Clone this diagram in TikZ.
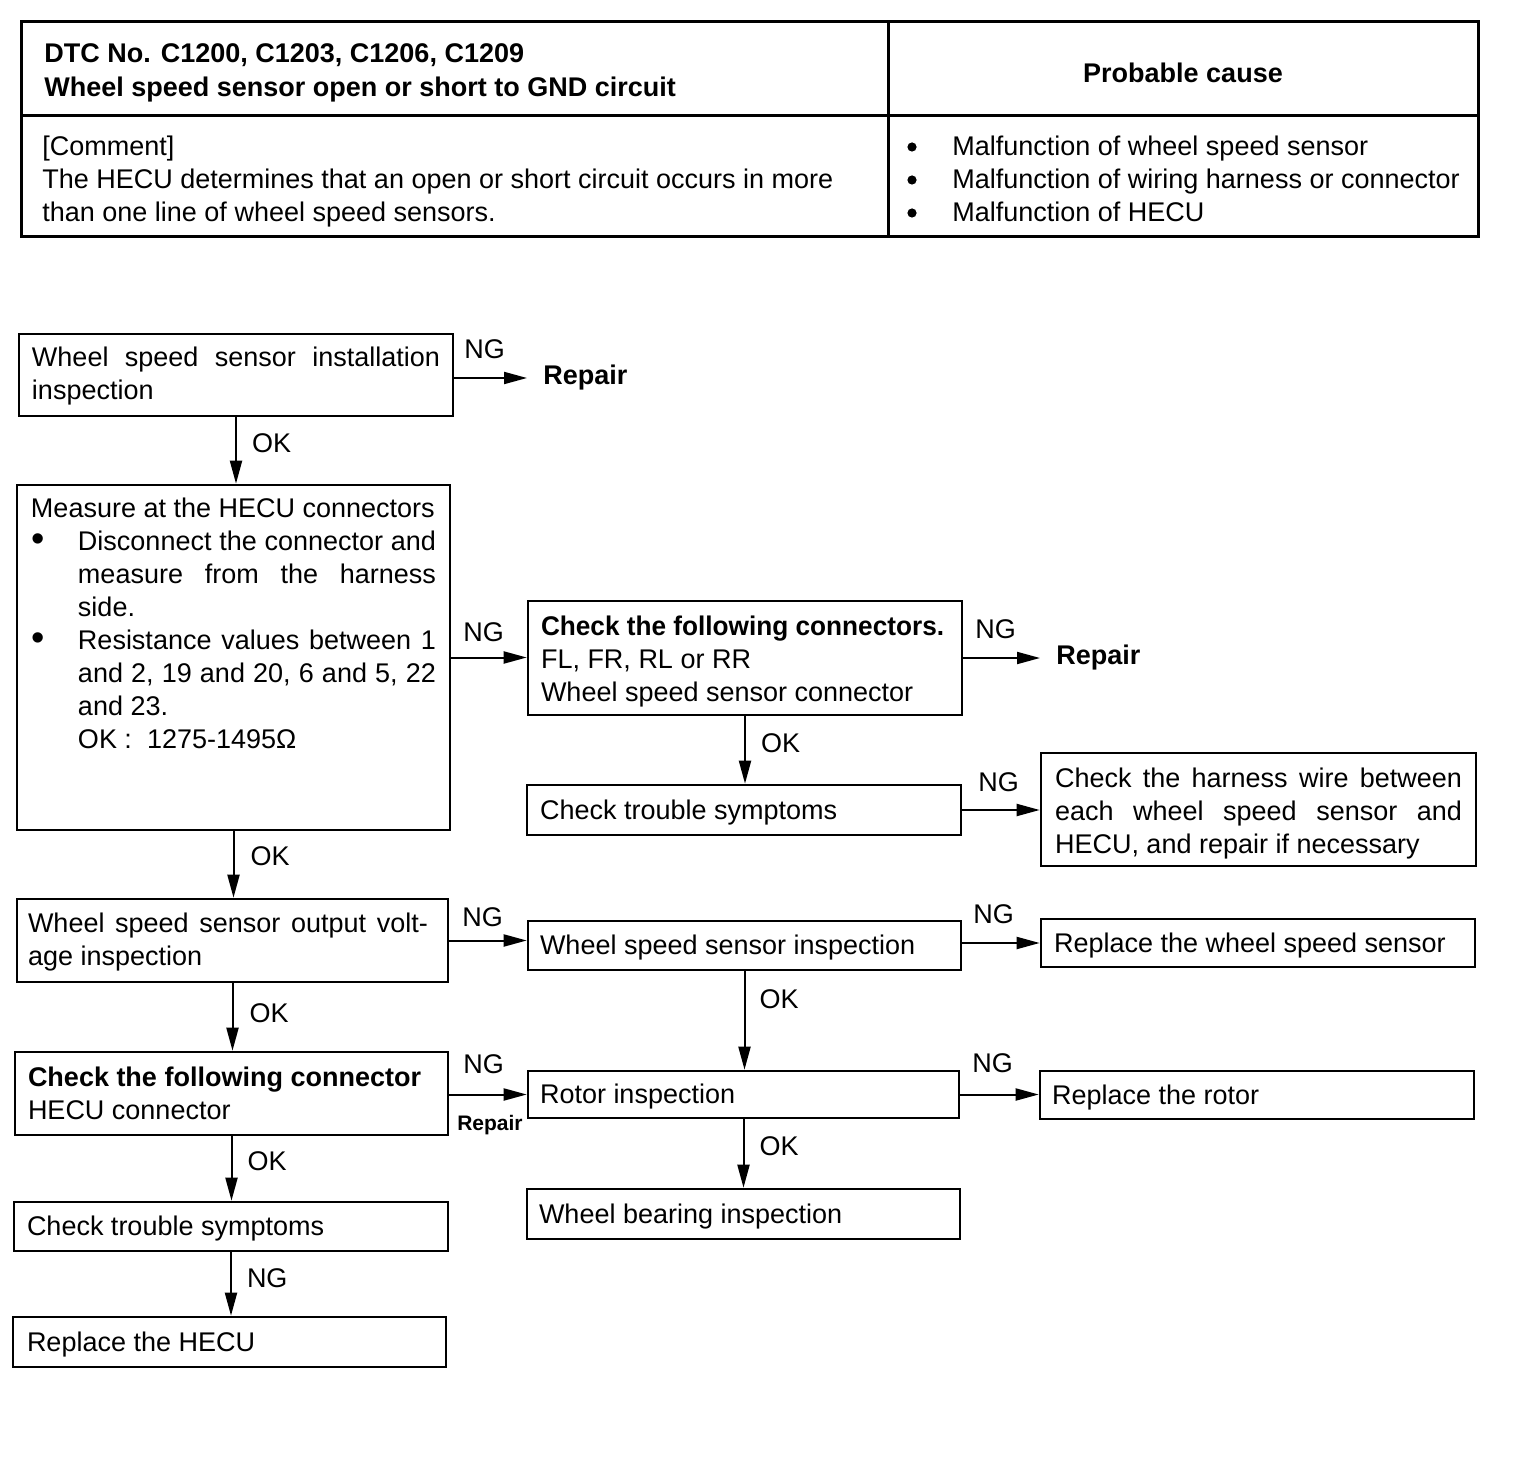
\documentclass[tikz,border=0pt]{standalone}
\usepackage{fontspec}
\setmainfont{Liberation Sans}
\usetikzlibrary{arrows.meta}
\newcommand\fsz{\fontsize{13.5pt}{16.5pt}\selectfont}
\newcommand\jline[1]{\makebox[\linewidth][s]{#1}}
\newcommand\bigbul{{\fontsize{19pt}{16.5pt}\selectfont\raisebox{-0.6pt}{•}}}
\newcommand\bul{\makebox[23.5pt][l]{\hspace{0.5pt}\bigbul}}
\newcommand\ind{\hspace*{23.5pt}}
\newcommand\jind[1]{\makebox[\dimexpr\linewidth-23.5pt\relax][s]{#1}}
\begin{document}
\begin{tikzpicture}[x=0.5pt,y=-0.5pt,
  bx/.style={draw, line width=1.3pt, inner sep=0pt, font=\fsz},
  one/.style={text height=12pt, text depth=2.3pt},
  arr/.style={line width=1pt, -{Triangle[length=11.5pt,width=6pt]}},
  lbl/.style={font=\fsz, inner sep=0pt},
  blbl/.style={font=\fsz\bfseries, inner sep=0pt},
  dot/.style={circle, fill, inner sep=0pt, minimum size=4.6pt},
  tbl/.style={line width=1.5pt}]
\useasboundingbox[fill=white] (0,0) rectangle (1520,1470);

% ---------- table ----------
\draw[tbl] (21,22) rectangle (1478,237);
\draw[tbl] (21,116) -- (1478,116);
\draw[tbl] (888,22) -- (888,237);
\node[blbl, anchor=base west] (th1) at (44,63) {DTC No. C1200, C1203, C1206, C1209};
\node[blbl, anchor=base west] (th2) at (44,97) {Wheel speed sensor open or short to GND circuit};
\node[blbl, anchor=base] (th3) at (1183,83) {Probable cause};
\node[lbl, anchor=base west] (c1) at (42,156) {[Comment]};
\node[lbl, anchor=base west] (c2) at (42,189) {The HECU determines that an open or short circuit occurs in more};
\node[lbl, anchor=base west] (c3) at (42,222) {than one line of wheel speed sensors.};
\node[dot] (pb1) at (912,147) {};
\node[dot] (pb2) at (912,180) {};
\node[dot] (pb3) at (912,213) {};
\node[lbl, anchor=base west] (p1) at (952,156) {Malfunction of wheel speed sensor};
\node[lbl, anchor=base west] (p2) at (952,189) {Malfunction of wiring harness or connector};
\node[lbl, anchor=base west] (p3) at (952,222) {Malfunction of HECU};

% ---------- boxes ----------
\node[bx, minimum width=217pt, minimum height=41pt] (b1) at (236,375)
  {\parbox[c][41pt][c]{204pt}{\vspace*{1pt}\jline{Wheel speed sensor installation}\\inspection}};
\node[bx, minimum width=216.5pt, minimum height=172.5pt] (b2) at (233.5,657.5)
  {\parbox[c][172.5pt][t]{202.5pt}{\vspace*{6.5pt}Measure at the HECU connectors\\
   \bul\jind{Disconnect the connector and}\\
   \ind\jind{measure from the harness}\\
   \ind side.\\
   \bul\jind{Resistance values between 1}\\
   \ind\jind{and 2, 19 and 20, 6 and 5, 22}\\
   \ind and 23.\\
   \ind OK :\ \ 1275-1495Ω}};
\node[bx, minimum width=217pt, minimum height=57pt] (b3) at (745,658)
  {\parbox[c][57pt][c]{204pt}{\vspace*{4pt}\scalebox{0.97}[1]{\textbf{Check the following connectors.}}\\FL, FR, RL or RR\\Wheel speed sensor connector}};
\node[bx, one, minimum width=217pt, minimum height=25pt] (b4) at (744,810)
  {\parbox{204pt}{Check trouble symptoms}};
\node[bx, minimum width=217.5pt, minimum height=56.5pt] (b5) at (1258.5,809.5)
  {\parbox[c][56.5pt][c]{203.5pt}{\vspace*{4pt}\jline{Check the harness wire between}\\\jline{each wheel speed sensor and}\\HECU, and repair if necessary}};
\node[bx, minimum width=215.5pt, minimum height=41.5pt] (b6) at (232.5,940.5)
  {\parbox[c][41.5pt][c]{204.5pt}{\vspace*{2pt}\makebox[200pt][s]{Wheel speed sensor output volt-}\\age inspection}};
\node[bx, one, minimum width=216.5pt, minimum height=24.5pt] (b7) at (744.5,945.5)
  {\parbox{204.5pt}{Wheel speed sensor inspection}};
\node[bx, one, minimum width=217pt, minimum height=24pt] (b8) at (1258,943)
  {\parbox{204pt}{Replace the wheel speed sensor}};
\node[bx, minimum width=216.5pt, minimum height=41.5pt] (b9) at (231.5,1093.5)
  {\parbox{203.5pt}{\textbf{Check the following connector}\\HECU connector}};
\node[bx, one, minimum width=215.5pt, minimum height=23.5pt] (b10) at (743.5,1094.5)
  {\parbox{203.5pt}{Rotor inspection}};
\node[bx, one, minimum width=217pt, minimum height=24pt] (b11) at (1257,1095)
  {\parbox{205pt}{Replace the rotor}};
\node[bx, one, minimum width=216.5pt, minimum height=25pt] (b12) at (743.5,1214)
  {\parbox{204.5pt}{Wheel bearing inspection}};
\node[bx, one, minimum width=217pt, minimum height=24.5pt] (b13) at (231,1226.5)
  {\parbox{204pt}{Check trouble symptoms}};
\node[bx, one, minimum width=216.5pt, minimum height=25pt] (b14) at (229.5,1342)
  {\parbox{202.5pt}{Replace the HECU}};

\node[blbl, anchor=west, inner xsep=8pt] (r1) at (527,378) {Repair};
\node[blbl, anchor=west, inner xsep=8pt] (r2) at (1040,658) {Repair};

% ---------- horizontal NG connectors ----------
\draw[arr] (r1.west -| b1.east) -- (r1.west)
  node[lbl, pos=0, anchor=base west, xshift=4.5pt, yshift=9.5pt] (ng1) {NG};
\draw[arr] (b2.east) -- (b2.east -| b3.west)
  node[lbl, pos=0, anchor=base west, xshift=5.5pt, yshift=8pt] (ng2) {NG};
\draw[arr] (r2.west -| b3.east) -- (r2.west)
  node[lbl, pos=0, anchor=base west, xshift=5.5pt, yshift=10pt] (ng3) {NG};
\draw[arr] (b4.east) -- (b4.east -| b5.west)
  node[lbl, pos=0, anchor=base west, xshift=7.5pt, yshift=9.5pt] (ng4) {NG};
\draw[arr] (b6.east) -- (b6.east -| b7.west)
  node[lbl, pos=0, anchor=base west, xshift=6pt, yshift=7pt] (ng5) {NG};
\draw[arr] (b8.west -| b7.east) -- (b8.west)
  node[lbl, pos=0, anchor=base west, xshift=5pt, yshift=10pt] (ng6) {NG};
\draw[arr] (b10.west -| b9.east) -- (b10.west)
  node[lbl, pos=0, anchor=base west, xshift=6.5pt, yshift=10.5pt] (ng7) {NG}
  node[pos=0, anchor=base west, inner sep=0pt, font=\fontsize{10.5pt}{12pt}\selectfont\bfseries, xshift=3.5pt, yshift=-18pt] (rp3) {Repair};
\draw[arr] (b10.east) -- (b10.east -| b11.west)
  node[lbl, pos=0, anchor=base west, xshift=5.5pt, yshift=11pt] (ng8) {NG};

% ---------- vertical connectors ----------
\draw[arr] (b1.south) -- (b1.south |- b2.north)
  node[lbl, pos=0.377, anchor=base west, xshift=7.5pt, yshift=-5pt] (ok1) {OK};
\draw[arr] (b2.south) -- (b2.south |- b6.north)
  node[lbl, pos=0.36, anchor=base west, xshift=8pt, yshift=-5pt] (ok2) {OK};
\draw[arr] (b3.south) -- (b3.south |- b4.north)
  node[lbl, pos=0.386, anchor=base west, xshift=7.5pt, yshift=-5pt] (ok3) {OK};
\draw[arr] (b7.south) -- (b7.south |- b10.north)
  node[lbl, pos=0.277, anchor=base west, xshift=7pt, yshift=-5pt] (ok4) {OK};
\draw[arr] (b6.south) -- (b6.south |- b9.north)
  node[lbl, pos=0.44, anchor=base west, xshift=8pt, yshift=-5pt] (ok5) {OK};
\draw[arr] (b10.south) -- (b10.south |- b12.north)
  node[lbl, pos=0.39, anchor=base west, xshift=7.5pt, yshift=-5pt] (ok6) {OK};
\draw[arr] (b9.south) -- (b9.south |- b13.north)
  node[lbl, pos=0.37, anchor=base west, xshift=7.5pt, yshift=-5pt] (ok7) {OK};
\draw[arr] (b13.south) -- (b13.south |- b14.north)
  node[lbl, pos=0.39, anchor=base west, xshift=7.5pt, yshift=-5pt] (ng9) {NG};
\end{tikzpicture}
\end{document}
